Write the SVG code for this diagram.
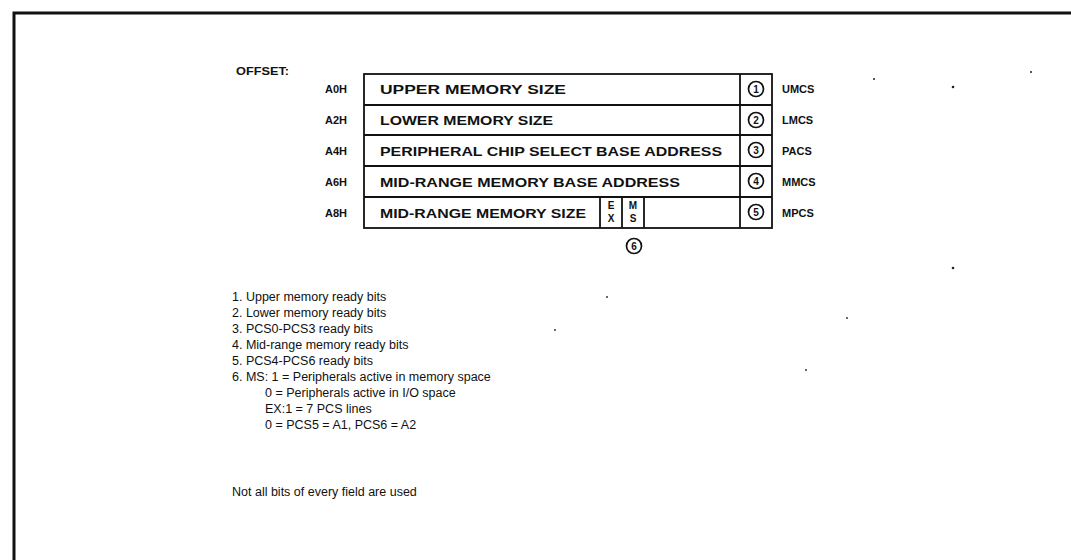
<svg xmlns="http://www.w3.org/2000/svg" width="1071" height="560" viewBox="0 0 1071 560">
<style>
.b{font-family:"Liberation Sans",Arial,sans-serif;font-weight:bold;font-size:11px;fill:#111}
.t{font-family:"Liberation Sans",Arial,sans-serif;font-weight:bold;font-size:13px;fill:#111}
.r{font-family:"Liberation Sans",Arial,sans-serif;font-size:12.5px;fill:#111}
.c{font-family:"Liberation Sans",Arial,sans-serif;font-weight:bold;font-size:10px;fill:#111;text-anchor:middle}
.ln{stroke:#111;stroke-width:1.8;fill:none}
.circ{fill:#fff;stroke:#111;stroke-width:1.7}
.dot{fill:#222}
</style>
<rect width="1071" height="560" fill="#fff"/>
<path d="M14 562 V13 H1071" fill="none" stroke="#111" stroke-width="3"/>
<text class="b" x="236" y="75" textLength="53" lengthAdjust="spacingAndGlyphs">OFFSET:</text>
<g id="table">
<rect class="ln" x="364" y="74" width="408" height="154" stroke-width="2.2"/>
<line class="ln" x1="364" y1="105" x2="772" y2="105"/>
<line class="ln" x1="364" y1="135" x2="772" y2="135"/>
<line class="ln" x1="364" y1="166" x2="772" y2="166"/>
<line class="ln" x1="364" y1="197" x2="772" y2="197"/>
<line class="ln" x1="740" y1="74" x2="740" y2="228"/>
</g>
<g id="row-a0h">
<text class="b" x="347" y="93" text-anchor="end">A0H</text>
<text class="t" x="380" y="94" textLength="186" lengthAdjust="spacingAndGlyphs">UPPER MEMORY SIZE</text>
<circle class="circ" cx="756" cy="89" r="7.5"/><text class="c" x="756" y="92.5">1</text>
<text class="b" x="782" y="93">UMCS</text>
</g>
<g id="row-a2h">
<text class="b" x="347" y="124" text-anchor="end">A2H</text>
<text class="t" x="380" y="125" textLength="173" lengthAdjust="spacingAndGlyphs">LOWER MEMORY SIZE</text>
<circle class="circ" cx="756" cy="120" r="7.5"/><text class="c" x="756" y="123.5">2</text>
<text class="b" x="782" y="124">LMCS</text>
</g>
<g id="row-a4h">
<text class="b" x="347" y="155" text-anchor="end">A4H</text>
<text class="t" x="380" y="156" textLength="342" lengthAdjust="spacingAndGlyphs">PERIPHERAL CHIP SELECT BASE ADDRESS</text>
<circle class="circ" cx="756" cy="150" r="7.5"/><text class="c" x="756" y="153.5">3</text>
<text class="b" x="782" y="155">PACS</text>
</g>
<g id="row-a6h">
<text class="b" x="347" y="186" text-anchor="end">A6H</text>
<text class="t" x="380" y="187" textLength="300" lengthAdjust="spacingAndGlyphs">MID-RANGE MEMORY BASE ADDRESS</text>
<circle class="circ" cx="756" cy="181" r="7.5"/><text class="c" x="756" y="184.5">4</text>
<text class="b" x="782" y="186">MMCS</text>
</g>
<g id="row-a8h">
<text class="b" x="347" y="217" text-anchor="end">A8H</text>
<text class="t" x="380" y="218" textLength="206" lengthAdjust="spacingAndGlyphs">MID-RANGE MEMORY SIZE</text>
<line class="ln" x1="600" y1="197" x2="600" y2="228"/>
<line class="ln" x1="622" y1="197" x2="622" y2="228"/>
<line class="ln" x1="644" y1="197" x2="644" y2="228"/>
<text class="c" x="611" y="209">E</text><text class="c" x="611" y="222">X</text>
<text class="c" x="633" y="209">M</text><text class="c" x="633" y="222">S</text>
<circle class="circ" cx="756" cy="212" r="7.5"/><text class="c" x="756" y="215.5">5</text>
<text class="b" x="782" y="217">MPCS</text>
</g>
<g id="note6-marker">
<circle class="circ" cx="634" cy="246" r="7.5"/><text class="c" x="634" y="249.5">6</text>
</g>
<g id="notes">
<text class="r" x="232" y="301">1. Upper memory ready bits</text>
<text class="r" x="232" y="317">2. Lower memory ready bits</text>
<text class="r" x="232" y="333">3. PCS0-PCS3 ready bits</text>
<text class="r" x="232" y="349">4. Mid-range memory ready bits</text>
<text class="r" x="232" y="365">5. PCS4-PCS6 ready bits</text>
<text class="r" x="232" y="381">6. MS: 1 = Peripherals active in memory space</text>
<text class="r" x="265" y="397">0 = Peripherals active in I/O space</text>
<text class="r" x="265" y="413">EX:1 = 7 PCS lines</text>
<text class="r" x="265" y="429">0 = PCS5 = A1, PCS6 = A2</text>
<text class="r" x="232" y="496">Not all bits of every field are used</text>
</g>
<g id="specks">
<circle class="dot" cx="874" cy="79" r="1"/>
<circle class="dot" cx="953" cy="87" r="1.3"/>
<circle class="dot" cx="1031" cy="72" r="1"/>
<circle class="dot" cx="953" cy="268" r="1.3"/>
<circle class="dot" cx="607" cy="297" r="0.9"/>
<circle class="dot" cx="847" cy="318" r="0.9"/>
<circle class="dot" cx="555" cy="330" r="0.9"/>
<circle class="dot" cx="806" cy="370" r="0.9"/>
</g>
</svg>
